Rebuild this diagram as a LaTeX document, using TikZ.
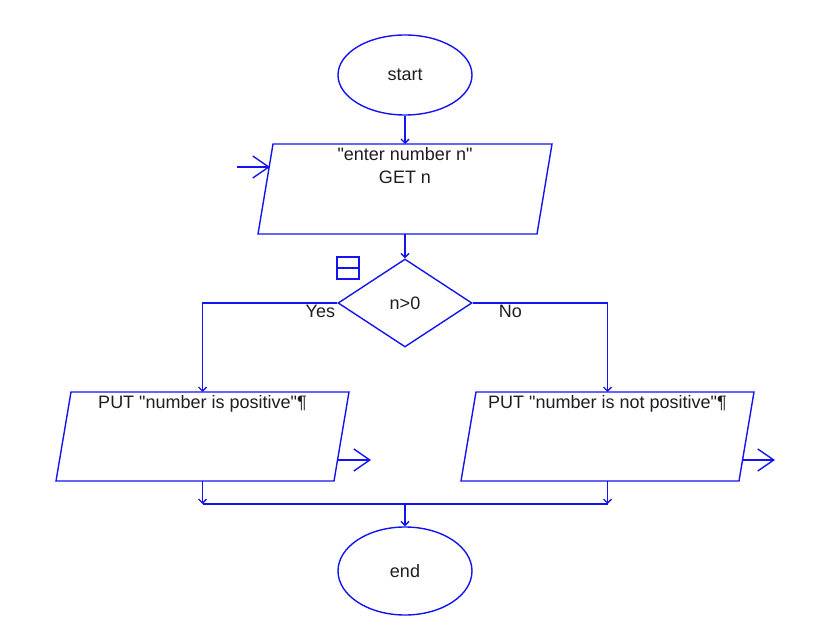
\documentclass[tikz,border=0pt]{standalone}
\usepackage{fontspec}
\setmainfont[Ligatures=TeXReset]{Liberation Sans}
\usetikzlibrary{calc, shapes.geometric, arrows.meta}

\definecolor{flowblue}{RGB}{20,20,240}
\definecolor{flowtext}{RGB}{30,30,30}

\tikzset{
	flow/.style = {draw = flowblue, line width = 1.4pt},
	term/.style = {flow, ellipse, inner sep = 0pt, minimum width = 134pt},
	test/.style = {flow, diamond, inner sep = 0pt, minimum width = 134pt, minimum height = 88pt},
	iobox/.style = {rectangle, inner sep = 0pt, outer sep = 0pt, minimum width = 294pt, minimum height = 90pt},
	words/.style = {text = flowtext, font = \fontsize{18}{23}\selectfont},
	conn/.style = {flowblue, line width = 1.4pt, -{Straight Barb[length = 4pt, width = 8pt]}},
	ioarrow/.style = {flowblue, line width = 1.4pt, -{Straight Barb[length = 16pt, width = 22pt]}}
}

\begin{document}
\begin{tikzpicture}[x = 1pt, y = -1pt]
					\useasboundingbox (0,0) rectangle (827,644);
					\def\slant{15};
					
					\node [term, minimum height = 80pt, words] (start) at (405,75) {start};
					\node [iobox] (in) at (405,189) {};
					\node [test, words] (check) at (405,303) {n>0};
					\node [iobox, minimum width = 293pt, minimum height = 89pt] (pos) at (202.5,436.5) {};
					\node [iobox, minimum width = 293pt, minimum height = 89pt] (neg) at (607.5,436.5) {};
					\node [term, minimum height = 88pt, words] (stop) at (405,571) {end};
					
					\foreach \b in {in, pos, neg}
						\draw [flow] (\b.south west) -- ($ (\b.north west) + (\slant,0) $) -- (\b.north east) -- ($ (\b.south east) - (\slant,0) $) -- cycle;
					
					\node [words, align = center, anchor = north, inner sep = 3pt] (inText) at (in.north) {"enter number n"\\GET n};
					\node [words, anchor = north, inner sep = 3pt] (posText) at (pos.north) {PUT "number is positive"¶};
					\node [words, anchor = north, inner sep = 3pt] (negText) at (neg.north) {PUT "number is not positive"¶};
					
					\coordinate (join) at (405,504);
					\coordinate (inlet) at (237,167);
					\coordinate (posOut) at (338,460);
					\coordinate (negOut) at (743,460);
					
					\begin{scope}
						\draw [conn] (start.south) -- (in.north);
						\draw [conn] (in.south) -- (check.north);
						\draw [conn] (check.west) -| (pos.north);
						\draw [conn] (check.east) -| (neg.north);
						\draw [conn] (pos.south) -- (pos.south |- join);
						\draw [conn] (neg.south) -- (neg.south |- join);
						\draw [flowblue, line width = 1.4pt] (pos.south |- join) -- (neg.south |- join);
						\draw [conn] (join) -- (stop.north);
					\end{scope}
					
					\node [words, anchor = north east, inner sep = 2pt] (yes) at (check.west) {Yes};
					\node [words, anchor = north west, inner sep = 2pt] (no) at ($ (check.east) + (24,0) $) {No};
					
					\begin{scope}
						\draw [ioarrow] (inlet) -- ++(33,0);
						\draw [ioarrow] (posOut) -- ++(33,0);
						\draw [ioarrow] (negOut) -- ++(32,0);
					\end{scope}
					
					\draw [flow] (337,257) rectangle (359,279);
					\draw [flow] (337,268) -- (359,268);
				\end{tikzpicture}
\end{document}
